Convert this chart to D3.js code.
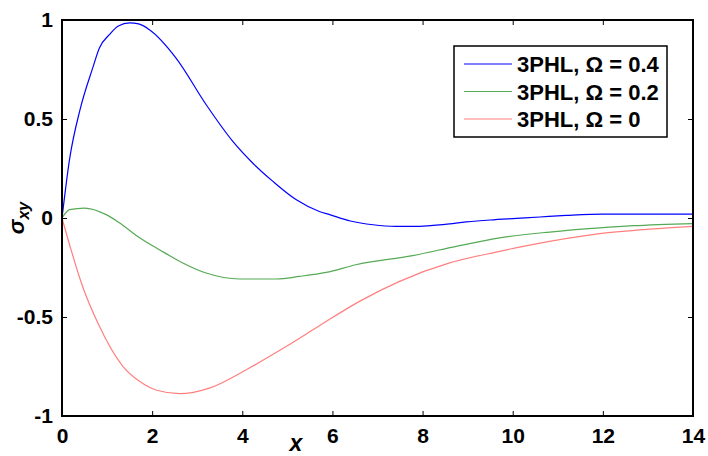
<!DOCTYPE html>
<html>
<head>
<meta charset="utf-8">
<script src="https://cdn.jsdelivr.net/npm/d3@7"></script>
<style>
  body { margin: 0; background: #fff; }
  svg { font-family: "Liberation Sans", Arial, sans-serif; }
</style>
</head>
<body>
<svg id="chart"></svg>
<script>
// series values
const xTicks = [0, 2, 4, 6, 8, 10, 12, 14];
const yTicks = [-1, -0.5, 0, 0.5, 1];

const blueX = [0, 0.17, 0.40, 0.68, 0.83, 1.05, 1.25, 1.5, 1.7, 1.94, 2.53, 3.2, 3.79, 4.23, 4.68, 5.2, 5.71, 5.94, 6.4, 6.9, 7.41, 7.93, 8.5, 8.97, 9.5, 10.08, 10.6, 11.19, 12.0, 13.0, 14];
const blueY = [0, 0.30, 0.547, 0.757, 0.859, 0.926, 0.97, 0.985, 0.98, 0.951, 0.808, 0.572, 0.387, 0.278, 0.185, 0.092, 0.033, 0.017, -0.015, -0.034, -0.042, -0.042, -0.032, -0.02, -0.01, -0.002, 0.005, 0.013, 0.02, 0.02, 0.02];

const greenX = [0, 0.17, 0.5, 0.98, 1.28, 1.72, 2.16, 2.68, 3.2, 3.94, 4.75, 5.27, 5.86, 6.52, 7.78, 8.75, 9.71, 10.82, 11.93, 12.67, 14];
const greenY = [0, 0.042, 0.05, 0.017, -0.025, -0.10, -0.16, -0.227, -0.278, -0.308, -0.308, -0.295, -0.275, -0.236, -0.19, -0.143, -0.10, -0.071, -0.05, -0.039, -0.028];

const redX = [0, 0.2, 0.43, 0.83, 1.35, 1.72, 2.1, 2.61, 3.27, 4.09, 4.98, 5.71, 6.6, 7.49, 8.6, 9.63, 10.82, 11.93, 13.04, 14];
const redY = [0, -0.16, -0.328, -0.547, -0.749, -0.825, -0.87, -0.887, -0.859, -0.766, -0.648, -0.544, -0.421, -0.32, -0.227, -0.172, -0.118, -0.079, -0.056, -0.042];

const seriesNames = ["3PHL, \u03A9 = 0.4", "3PHL, \u03A9 = 0.2", "3PHL, \u03A9 = 0"];
const seriesColors = ["#0000ff", "#55aa55", "#ff7f7f"];

const width = 708;
const height = 456;
const margin = { top: 20, right: 15, bottom: 40, left: 62 };

const svg = d3.select('#chart')
    .attr('width', width)
    .attr('height', height);

const x = d3.scaleLinear().domain([0, 14]).range([margin.left, width - margin.right]);
const y = d3.scaleLinear().domain([-1, 1]).range([height - margin.bottom, margin.top]);

const series = [
    { name: seriesNames[0], color: seriesColors[0], xs: blueX, ys: blueY },
    { name: seriesNames[1], color: seriesColors[1], xs: greenX, ys: greenY },
    { name: seriesNames[2], color: seriesColors[2], xs: redX, ys: redY }
];

const line = d3.line()
    .x(d => x(d[0]))
    .y(d => y(d[1]))
    .curve(d3.curveMonotoneX);

svg.append('g')
    .selectAll('path')
    .data(series)
    .join('path')
    .attr('fill', 'none')
    .attr('stroke', d => d.color)
    .attr('stroke-width', 1.2)
    .attr('d', d => line(d3.zip(d.xs, d.ys)));

// plain hyphen minus like the original
const fmt = d => String(d);

// axes: ticks pointing inward on all four sides (box)
const tickStyle = g => {
    g.select('.domain').remove();
    g.selectAll('.tick line').attr('stroke', '#000');
    g.selectAll('.tick text')
        .attr('font-size', 21)
        .attr('font-weight', 'bold')
        .attr('fill', '#000')
        .attr('font-family', '"Liberation Sans", Arial, sans-serif');
};

svg.append('g')
    .attr('transform', `translate(0,${y(-1)})`)
    .call(d3.axisBottom(x).tickValues(xTicks).tickSizeInner(-5).tickSizeOuter(0).tickPadding(12).tickFormat(fmt))
    .call(tickStyle);

svg.append('g')
    .attr('transform', `translate(0,${y(1)})`)
    .call(d3.axisTop(x).tickValues(xTicks).tickSizeInner(-5).tickSizeOuter(0).tickFormat(''))
    .call(tickStyle);

svg.append('g')
    .attr('transform', `translate(${x(0)},0)`)
    .call(d3.axisLeft(y).tickValues(yTicks).tickSizeInner(-5).tickSizeOuter(0).tickPadding(9).tickFormat(fmt))
    .call(tickStyle);

svg.append('g')
    .attr('transform', `translate(${x(14)},0)`)
    .call(d3.axisRight(y).tickValues(yTicks).tickSizeInner(-5).tickSizeOuter(0).tickFormat(''))
    .call(tickStyle);

// box
svg.append('rect')
    .attr('x', x(0))
    .attr('y', y(1))
    .attr('width', x(14) - x(0))
    .attr('height', y(-1) - y(1))
    .attr('fill', 'none')
    .attr('stroke', '#000')
    .attr('stroke-width', 2);

// axis labels
svg.append('text')
    .attr('x', 296)
    .attr('y', 451)
    .attr('text-anchor', 'middle')
    .attr('font-size', 23)
    .attr('font-weight', 'bold')
    .attr('font-style', 'italic')
    .text('x');

const ylab = svg.append('text')
    .attr('transform', `translate(24,${y(0)}) rotate(-90)`)
    .attr('text-anchor', 'middle')
    .attr('font-size', 22)
    .attr('font-weight', 'bold')
    .attr('font-style', 'italic');
ylab.append('tspan').text('\u03C3');
ylab.append('tspan').attr('font-size', 16).attr('dy', 5).text('xy');

// legend
const legend = svg.append('g').attr('transform', 'translate(454,46)');
legend.append('rect')
    .attr('width', 213)
    .attr('height', 91)
    .attr('fill', '#fff')
    .attr('stroke', '#000')
    .attr('stroke-width', 1.5);

const rows = legend.selectAll('g.row')
    .data(series)
    .join('g')
    .attr('class', 'row')
    .attr('transform', (d, i) => `translate(0,${18 + i * 27.5})`);

rows.append('line')
    .attr('x1', 10)
    .attr('x2', 58)
    .attr('stroke', d => d.color)
    .attr('stroke-width', 1.2);

rows.append('text')
    .attr('x', 63)
    .attr('y', 8)
    .attr('font-size', 22)
    .attr('font-weight', 'bold')
    .text(d => d.name);
</script>
</body>
</html>
